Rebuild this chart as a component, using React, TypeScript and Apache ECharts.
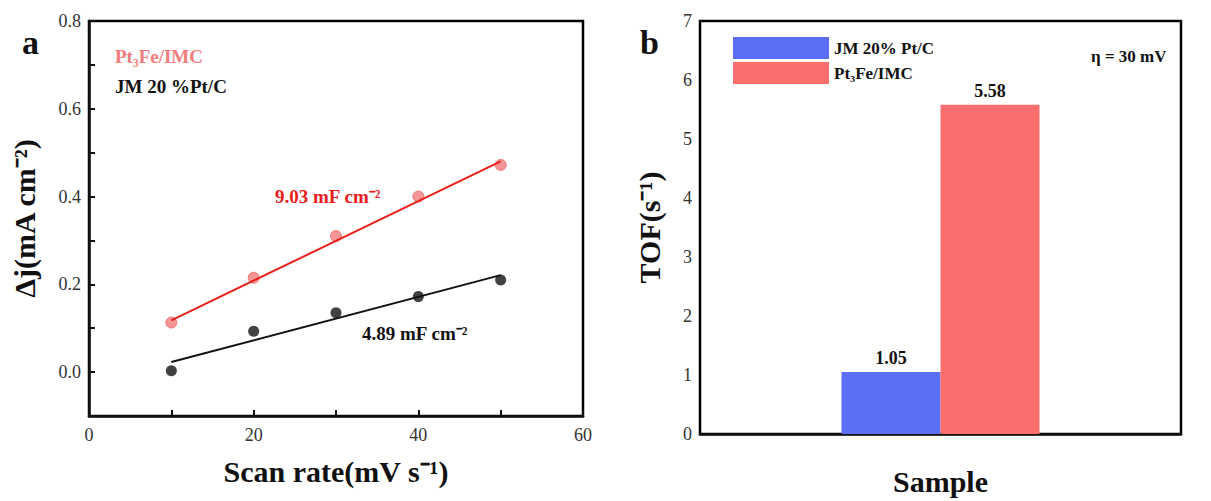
import { useEffect, useRef } from "react";
import * as echarts from "echarts";

const scanRates = [10, 20, 30, 40, 50];
const ptFeJ = [0.113, 0.215, 0.31, 0.4, 0.472];
const jmJ = [0.003, 0.093, 0.135, 0.172, 0.21];
const ptFeFit = [[10, 0.118], [50, 0.48]];
const jmFit = [[10, 0.023], [50, 0.221]];
const tofNames = ["JM 20% Pt/C", "Pt₃Fe/IMC"];
const tofValues = [1.05, 5.58];

const FONT = "Liberation Serif";
const RED = "#e8201c";
const PINK = "#f27c7c";
const BLUE = "#5a6ff5";
const BAR_RED = "#fb6e6e";

export default function App() {
  const elRef = useRef<HTMLDivElement>(null);

  useEffect(() => {
    if (!elRef.current) return;
    const chart = echarts.init(elRef.current, undefined, { renderer: "svg" });
    const axisName = { fontFamily: FONT, fontWeight: "bold" as const, fontSize: 30, color: "#111" };
    const axisLabel = { fontFamily: FONT, fontSize: 18, color: "#333" };
    const line = { onZero: false, lineStyle: { color: "#111", width: 2.5 } };
    const tick = { inside: true, length: 6, lineStyle: { color: "#111", width: 2 } };
    chart.setOption({
      animation: false,
      backgroundColor: "#fff",
      textStyle: { fontFamily: FONT },
      grid: [
        { left: 89, top: 21, width: 494, height: 395, show: true, borderColor: "#000", borderWidth: 2.5 },
        { left: 700, top: 21, width: 481, height: 417, show: true, borderColor: "#000", borderWidth: 2.5 },
      ],
      xAxis: [
        {
          gridIndex: 0, type: "value", min: 0, max: 60, interval: 10,
          name: "Scan rate(mV s⁻¹)", nameLocation: "middle", nameGap: 40, nameTextStyle: axisName,
          axisLine: line, axisTick: tick,
          axisLabel: { ...axisLabel, margin: 10, formatter: (v: number) => (v % 20 === 0 ? String(v) : "") },
          splitLine: { show: false },
        },
        {
          gridIndex: 1, type: "category", data: ["Sample"],
          name: "Sample", nameLocation: "middle", nameGap: 32, nameTextStyle: axisName,
          axisLine: line, axisTick: { show: false }, axisLabel: { show: false },
        },
      ],
      yAxis: [
        {
          gridIndex: 0, type: "value", min: -0.1, max: 0.8, interval: 0.1,
          name: "Δj(mA cm⁻²)", nameLocation: "middle", nameGap: 50, nameTextStyle: axisName,
          axisLine: line, axisTick: tick,
          axisLabel: {
            ...axisLabel,
            formatter: (v: number) => {
              const k = Math.round(v * 10);
              return k >= 0 && k % 2 === 0 ? v.toFixed(1) : "";
            },
          },
          splitLine: { show: false },
        },
        {
          gridIndex: 1, type: "value", min: 0, max: 7, interval: 1,
          name: "TOF(s⁻¹)", nameLocation: "middle", nameGap: 36, nameTextStyle: axisName,
          axisLine: line, axisTick: tick, axisLabel: axisLabel,
          splitLine: { show: false },
        },
      ],
      legend: {
        left: 733, top: 37, orient: "vertical", itemWidth: 96, itemHeight: 22, itemGap: 3,
        icon: "rect", data: tofNames,
        textStyle: { fontFamily: FONT, fontWeight: "bold", fontSize: 17, color: "#111" },
        padding: 0,
      },
      series: [
        {
          type: "scatter", xAxisIndex: 0, yAxisIndex: 0, symbolSize: 11,
          data: scanRates.map((x, i) => [x, ptFeJ[i]]),
          itemStyle: { color: PINK, borderColor: "#e66", borderWidth: 1 },
        },
        {
          type: "scatter", xAxisIndex: 0, yAxisIndex: 0, symbolSize: 11,
          data: scanRates.map((x, i) => [x, jmJ[i]]),
          itemStyle: { color: "#111" },
        },
        {
          type: "line", xAxisIndex: 0, yAxisIndex: 0, data: ptFeFit, showSymbol: false,
          lineStyle: { color: RED, width: 2 },
        },
        {
          type: "line", xAxisIndex: 0, yAxisIndex: 0, data: jmFit, showSymbol: false,
          lineStyle: { color: "#111", width: 2 },
        },
        {
          name: tofNames[0], type: "bar", xAxisIndex: 1, yAxisIndex: 1, barWidth: 99, barGap: "0%",
          data: [tofValues[0]], itemStyle: { color: BLUE },
          label: { show: true, position: "top", fontFamily: FONT, fontWeight: "bold", fontSize: 18, color: "#111", formatter: (p: any) => p.value.toFixed(2) },
        },
        {
          name: tofNames[1], type: "bar", xAxisIndex: 1, yAxisIndex: 1, barWidth: 99, barGap: "0%",
          data: [tofValues[1]], itemStyle: { color: BAR_RED },
          label: { show: true, position: "top", fontFamily: FONT, fontWeight: "bold", fontSize: 18, color: "#111", formatter: (p: any) => p.value.toFixed(2) },
        },
      ],
      graphic: [
        { type: "text", left: 22, top: 25, style: { text: "a", fontFamily: FONT, fontWeight: "bold", fontSize: 34, fill: "#111" } },
        { type: "text", left: 640, top: 25, style: { text: "b", fontFamily: FONT, fontWeight: "bold", fontSize: 34, fill: "#111" } },
        { type: "text", left: 115, top: 47, style: { text: "Pt₃Fe/IMC", fontFamily: FONT, fontWeight: "bold", fontSize: 19, fill: PINK } },
        { type: "text", left: 115, top: 77, style: { text: "JM 20 %Pt/C", fontFamily: FONT, fontWeight: "bold", fontSize: 19, fill: "#111" } },
        { type: "text", left: 275, top: 187, style: { text: "9.03 mF cm⁻²", fontFamily: FONT, fontWeight: "bold", fontSize: 19, fill: RED } },
        { type: "text", left: 362, top: 324, style: { text: "4.89 mF cm⁻²", fontFamily: FONT, fontWeight: "bold", fontSize: 19, fill: "#111" } },
        { type: "text", left: 1091, top: 48, style: { text: "η = 30 mV", fontFamily: FONT, fontWeight: "bold", fontSize: 17, fill: "#111" } },
      ],
    });
    return () => chart.dispose();
  }, []);

  return <div ref={elRef} style={{ position: "absolute", left: 0, top: 0, width: 1211, height: 501 }} />;
}
